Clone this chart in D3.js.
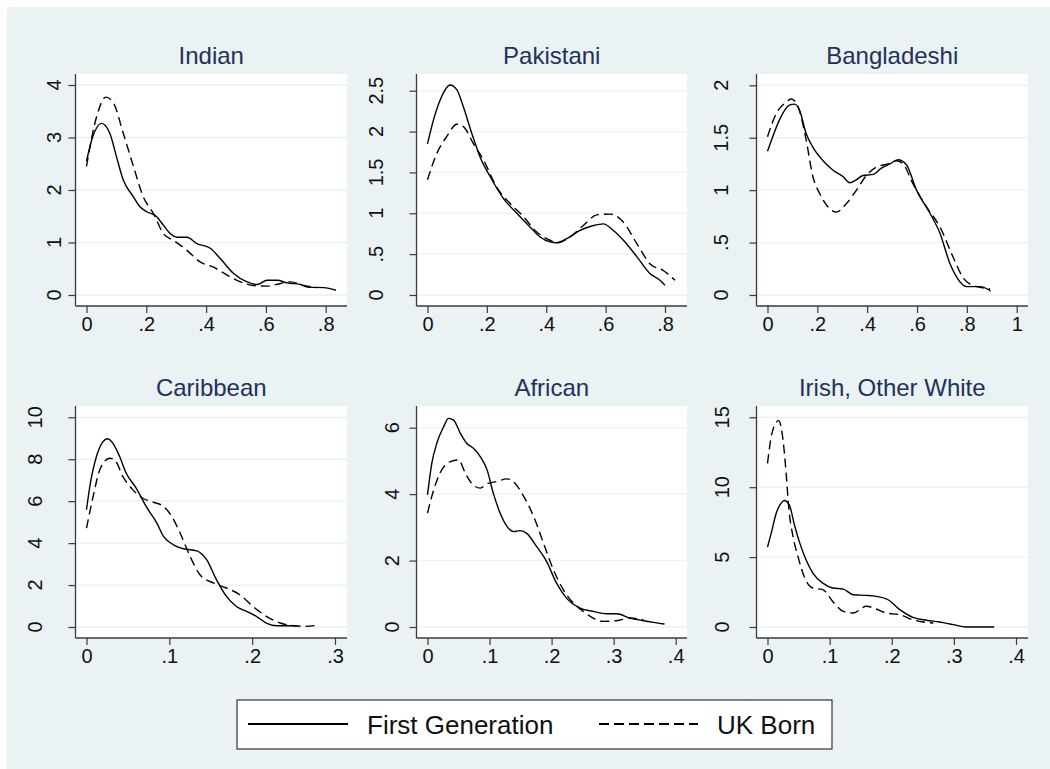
<!DOCTYPE html>
<html>
<head>
<meta charset="utf-8">
<script src="https://cdn.jsdelivr.net/npm/d3@7"></script>
<style>
  html, body { margin: 0; padding: 0; background: #ffffff; }
  svg { display: block; font-family: "Liberation Sans", Arial, sans-serif; }
</style>
</head>
<body>
<svg id="chart" width="1050" height="769"></svg>
<script>
// ---------------- DATA ----------------
const panelTitles = ["Indian", "Pakistani", "Bangladeshi", "Caribbean", "African", "Irish, Other White"];
const seriesNames = ["First Generation", "UK Born"];

const indianXTicks = [0, 0.2, 0.4, 0.6, 0.8];
const indianYTicks = [0, 1, 2, 3, 4];
const pakistaniXTicks = [0, 0.2, 0.4, 0.6, 0.8];
const pakistaniYTicks = [0, 0.5, 1, 1.5, 2, 2.5];
const bangladeshiXTicks = [0, 0.2, 0.4, 0.6, 0.8, 1];
const bangladeshiYTicks = [0, 0.5, 1, 1.5, 2];
const caribbeanXTicks = [0, 0.1, 0.2, 0.3];
const caribbeanYTicks = [0, 2, 4, 6, 8, 10];
const africanXTicks = [0, 0.1, 0.2, 0.3, 0.4];
const africanYTicks = [0, 2, 4, 6];
const irishXTicks = [0, 0.1, 0.2, 0.3, 0.4];
const irishYTicks = [0, 5, 10, 15];

const indianFirst = [[0,2.55],[0.02,3.0],[0.05,3.27],[0.078,3.08],[0.1,2.64],[0.123,2.19],[0.157,1.87],[0.179,1.68],[0.2,1.59],[0.235,1.49],[0.257,1.33],[0.28,1.17],[0.302,1.1],[0.336,1.1],[0.369,0.98],[0.414,0.89],[0.448,0.69],[0.492,0.41],[0.537,0.25],[0.571,0.2],[0.604,0.28],[0.638,0.28],[0.671,0.23],[0.716,0.2],[0.738,0.15],[0.794,0.14],[0.834,0.09]];
const indianUK = [[0,2.45],[0.034,3.4],[0.065,3.77],[0.09,3.66],[0.123,3.08],[0.157,2.45],[0.19,1.87],[0.224,1.55],[0.257,1.17],[0.291,1.04],[0.336,0.85],[0.38,0.63],[0.425,0.53],[0.47,0.38],[0.515,0.25],[0.56,0.18],[0.604,0.17],[0.649,0.22],[0.682,0.25],[0.727,0.18],[0.772,0.14]];

const pakistaniFirst = [[0,1.85],[0.02,2.14],[0.043,2.39],[0.076,2.57],[0.099,2.51],[0.121,2.3],[0.149,1.98],[0.177,1.69],[0.211,1.45],[0.256,1.18],[0.301,1.0],[0.346,0.83],[0.379,0.71],[0.413,0.65],[0.435,0.64],[0.469,0.69],[0.514,0.79],[0.559,0.85],[0.592,0.87],[0.626,0.79],[0.66,0.67],[0.705,0.47],[0.75,0.26],[0.783,0.18],[0.80,0.12]];
const pakistaniUK = [[0,1.41],[0.031,1.73],[0.065,1.94],[0.099,2.09],[0.121,2.06],[0.155,1.85],[0.189,1.65],[0.233,1.32],[0.278,1.12],[0.323,0.96],[0.368,0.77],[0.413,0.67],[0.441,0.64],[0.48,0.71],[0.525,0.85],[0.57,0.98],[0.615,0.99],[0.66,0.89],[0.705,0.63],[0.75,0.38],[0.794,0.3],[0.834,0.18]];

const bangladeshiFirst = [[0,1.37],[0.021,1.51],[0.048,1.67],[0.088,1.81],[0.109,1.82],[0.129,1.76],[0.155,1.54],[0.182,1.41],[0.223,1.28],[0.263,1.19],[0.303,1.13],[0.33,1.07],[0.357,1.1],[0.383,1.14],[0.424,1.15],[0.457,1.21],[0.491,1.25],[0.524,1.29],[0.558,1.24],[0.598,1.0],[0.652,0.78],[0.692,0.59],[0.732,0.3],[0.759,0.17],[0.799,0.08],[0.853,0.08],[0.895,0.04]];
const bangladeshiUK = [[0,1.51],[0.035,1.73],[0.075,1.84],[0.095,1.87],[0.122,1.8],[0.155,1.48],[0.182,1.13],[0.209,0.97],[0.243,0.84],[0.276,0.79],[0.316,0.87],[0.357,1.0],[0.397,1.14],[0.437,1.22],[0.484,1.25],[0.517,1.28],[0.544,1.25],[0.584,1.06],[0.638,0.84],[0.692,0.65],[0.745,0.36],[0.786,0.16],[0.826,0.09],[0.893,0.06]];

const caribbeanFirst = [[0,5.59],[0.004,6.7],[0.012,8.13],[0.02,8.84],[0.025,8.98],[0.032,8.76],[0.04,8.13],[0.048,7.33],[0.06,6.62],[0.072,5.75],[0.085,4.95],[0.093,4.32],[0.105,3.92],[0.117,3.73],[0.133,3.63],[0.145,3.21],[0.157,2.25],[0.169,1.46],[0.181,0.98],[0.193,0.75],[0.205,0.51],[0.217,0.19],[0.23,0.06],[0.254,0.06]];
const caribbeanUK = [[0,4.71],[0.008,6.22],[0.016,7.49],[0.028,8.05],[0.034,7.97],[0.044,7.17],[0.056,6.54],[0.068,6.14],[0.081,5.95],[0.093,5.75],[0.103,5.27],[0.113,4.48],[0.125,3.37],[0.137,2.49],[0.153,2.1],[0.169,1.86],[0.185,1.54],[0.201,0.98],[0.217,0.51],[0.234,0.19],[0.25,0.06],[0.262,0.03],[0.278,0.08]];

const africanFirst = [[0,3.98],[0.007,4.93],[0.015,5.53],[0.026,6.03],[0.034,6.28],[0.042,6.23],[0.053,5.83],[0.063,5.53],[0.074,5.38],[0.085,5.13],[0.096,4.73],[0.106,4.03],[0.117,3.43],[0.128,3.03],[0.139,2.87],[0.149,2.9],[0.16,2.82],[0.176,2.42],[0.192,1.97],[0.208,1.32],[0.224,0.87],[0.246,0.57],[0.267,0.47],[0.289,0.4],[0.305,0.4],[0.326,0.27],[0.348,0.19],[0.364,0.14],[0.382,0.09]];
const africanUK = [[0,3.43],[0.01,4.13],[0.02,4.63],[0.037,4.98],[0.05,5.03],[0.061,4.63],[0.071,4.33],[0.085,4.18],[0.096,4.31],[0.112,4.38],[0.128,4.46],[0.141,4.33],[0.155,3.93],[0.171,3.33],[0.187,2.52],[0.203,1.72],[0.219,1.12],[0.235,0.72],[0.251,0.47],[0.267,0.27],[0.283,0.17],[0.305,0.19],[0.326,0.27],[0.348,0.22]];

const irishFirst = [[0,5.71],[0.006,6.71],[0.014,8.14],[0.022,8.86],[0.027,9.05],[0.035,8.74],[0.044,7.19],[0.052,6.0],[0.062,4.81],[0.073,3.86],[0.089,3.14],[0.105,2.79],[0.122,2.71],[0.138,2.31],[0.159,2.26],[0.175,2.19],[0.194,1.95],[0.213,1.24],[0.234,0.69],[0.256,0.48],[0.277,0.36],[0.299,0.17],[0.32,0.0],[0.365,0.0]];
const irishUK = [[0,11.71],[0.006,13.62],[0.013,14.57],[0.018,14.76],[0.025,13.38],[0.03,11.0],[0.034,8.62],[0.041,6.48],[0.049,5.05],[0.06,3.5],[0.073,2.79],[0.089,2.67],[0.105,1.83],[0.122,1.12],[0.138,1.0],[0.159,1.48],[0.175,1.29],[0.191,1.0],[0.213,0.88],[0.234,0.52],[0.256,0.33],[0.267,0.29]];

const panelXTicks = [indianXTicks, pakistaniXTicks, bangladeshiXTicks, caribbeanXTicks, africanXTicks, irishXTicks];
const panelYTicks = [indianYTicks, pakistaniYTicks, bangladeshiYTicks, caribbeanYTicks, africanYTicks, irishYTicks];
const panelFirst = [indianFirst, pakistaniFirst, bangladeshiFirst, caribbeanFirst, africanFirst, irishFirst];
const panelUK = [indianUK, pakistaniUK, bangladeshiUK, caribbeanUK, africanUK, irishUK];

// ---------------- LAYOUT ----------------
const colLeft = [75.5, 416.5, 756.5];
const colRight = [347, 687, 1028];
const rowTop = [74, 406];
const rowBottom = [306, 638];
const padRight = [21.3, 22, 11.3, 12, 11.3, 12];
const padTop = [11, 16.7, 11.3, 11.3, 21.7, 11.3];
const ylabOffset = [22, 41, 36, 41, 25, 35];

const BG = "#EAF2F3";
const TITLE = "#22315c";
const AXIS = "#3a3a3a";

const svg = d3.select("#chart");
svg.append("rect").attr("x", 7).attr("y", 7).attr("width", 1043).attr("height", 762).attr("fill", BG);

const fmt = d => d === 0 ? "0" : String(d).replace(/^0\./, ".");

panelTitles.forEach((title, i) => {
  const r = Math.floor(i / 3), c = i % 3;
  const L = colLeft[c], R = colRight[c], T = rowTop[r], B = rowBottom[r];
  const xt = panelXTicks[i], yt = panelYTicks[i];
  const x = d3.scaleLinear().domain([0, d3.max(xt)]).range([L + 11, R - padRight[i]]);
  const y = d3.scaleLinear().domain([0, d3.max(yt)]).range([B - 11, T + padTop[i]]);
  const g = svg.append("g");

  g.append("rect").attr("x", L).attr("y", T).attr("width", R - L).attr("height", B - T).attr("fill", "#ffffff");

  // grid
  g.selectAll("line.grid").data(yt).join("line")
    .attr("x1", L).attr("x2", R)
    .attr("y1", d => y(d)).attr("y2", d => y(d))
    .attr("stroke", BG).attr("stroke-width", 1.3);

  // y axis
  const yAxis = d3.axisLeft(y).tickValues(yt).tickFormat(fmt).tickSize(7).tickPadding(0);
  const ya = g.append("g").attr("transform", `translate(${L},0)`).call(yAxis);
  ya.select(".domain").remove();
  ya.selectAll(".tick line").attr("stroke", AXIS).attr("stroke-width", 1.2);
  ya.selectAll(".tick text").remove();
  g.selectAll("text.ylab").data(yt).join("text")
    .attr("transform", d => `translate(${L - ylabOffset[i]},${y(d)}) rotate(-90)`)
    .attr("text-anchor", "middle").attr("dy", "0.36em")
    .attr("font-size", 20).attr("fill", "#111")
    .text(fmt);
  g.append("line").attr("x1", L).attr("x2", L).attr("y1", T).attr("y2", B)
    .attr("stroke", AXIS).attr("stroke-width", 1.3);

  // x axis
  const xAxis = d3.axisBottom(x).tickValues(xt).tickFormat(fmt).tickSize(7).tickPadding(4);
  const xa = g.append("g").attr("transform", `translate(0,${B})`).call(xAxis);
  xa.select(".domain").remove();
  xa.selectAll(".tick line").attr("stroke", AXIS).attr("stroke-width", 1.2);
  xa.selectAll(".tick text").attr("font-size", 20).attr("fill", "#111")
    .attr("font-family", "Liberation Sans, Arial, sans-serif");
  g.append("line").attr("x1", L).attr("x2", R).attr("y1", B).attr("y2", B)
    .attr("stroke", AXIS).attr("stroke-width", 1.3);

  // lines
  const line = d3.line().x(d => x(d[0])).y(d => y(d[1])).curve(d3.curveMonotoneX);
  g.append("path").datum(panelUK[i]).attr("d", line)
    .attr("fill", "none").attr("stroke", "#000").attr("stroke-width", 1.4)
    .attr("stroke-dasharray", "9,5");
  g.append("path").datum(panelFirst[i]).attr("d", line)
    .attr("fill", "none").attr("stroke", "#000").attr("stroke-width", 1.4);

  // title
  svg.append("text").attr("x", (L + R) / 2).attr("y", T - 10)
    .attr("text-anchor", "middle").attr("font-size", 24).attr("fill", TITLE)
    .text(title);
});

// ---------------- LEGEND ----------------
const lg = svg.append("g");
lg.append("rect").attr("x", 237).attr("y", 700).attr("width", 595).attr("height", 49)
  .attr("fill", "#fff").attr("stroke", "#333").attr("stroke-width", 1.2);
const legendItems = [
  { name: seriesNames[0], x1: 248, x2: 348, tx: 367, dash: null },
  { name: seriesNames[1], x1: 599, x2: 698, tx: 717, dash: "10,5" }
];
legendItems.forEach(it => {
  lg.append("line").attr("x1", it.x1).attr("x2", it.x2).attr("y1", 724).attr("y2", 724)
    .attr("stroke", "#000").attr("stroke-width", 2)
    .attr("stroke-dasharray", it.dash);
  lg.append("text").attr("x", it.tx).attr("y", 733.5).attr("font-size", 26).attr("fill", "#111")
    .text(it.name);
});
</script>
</body>
</html>
